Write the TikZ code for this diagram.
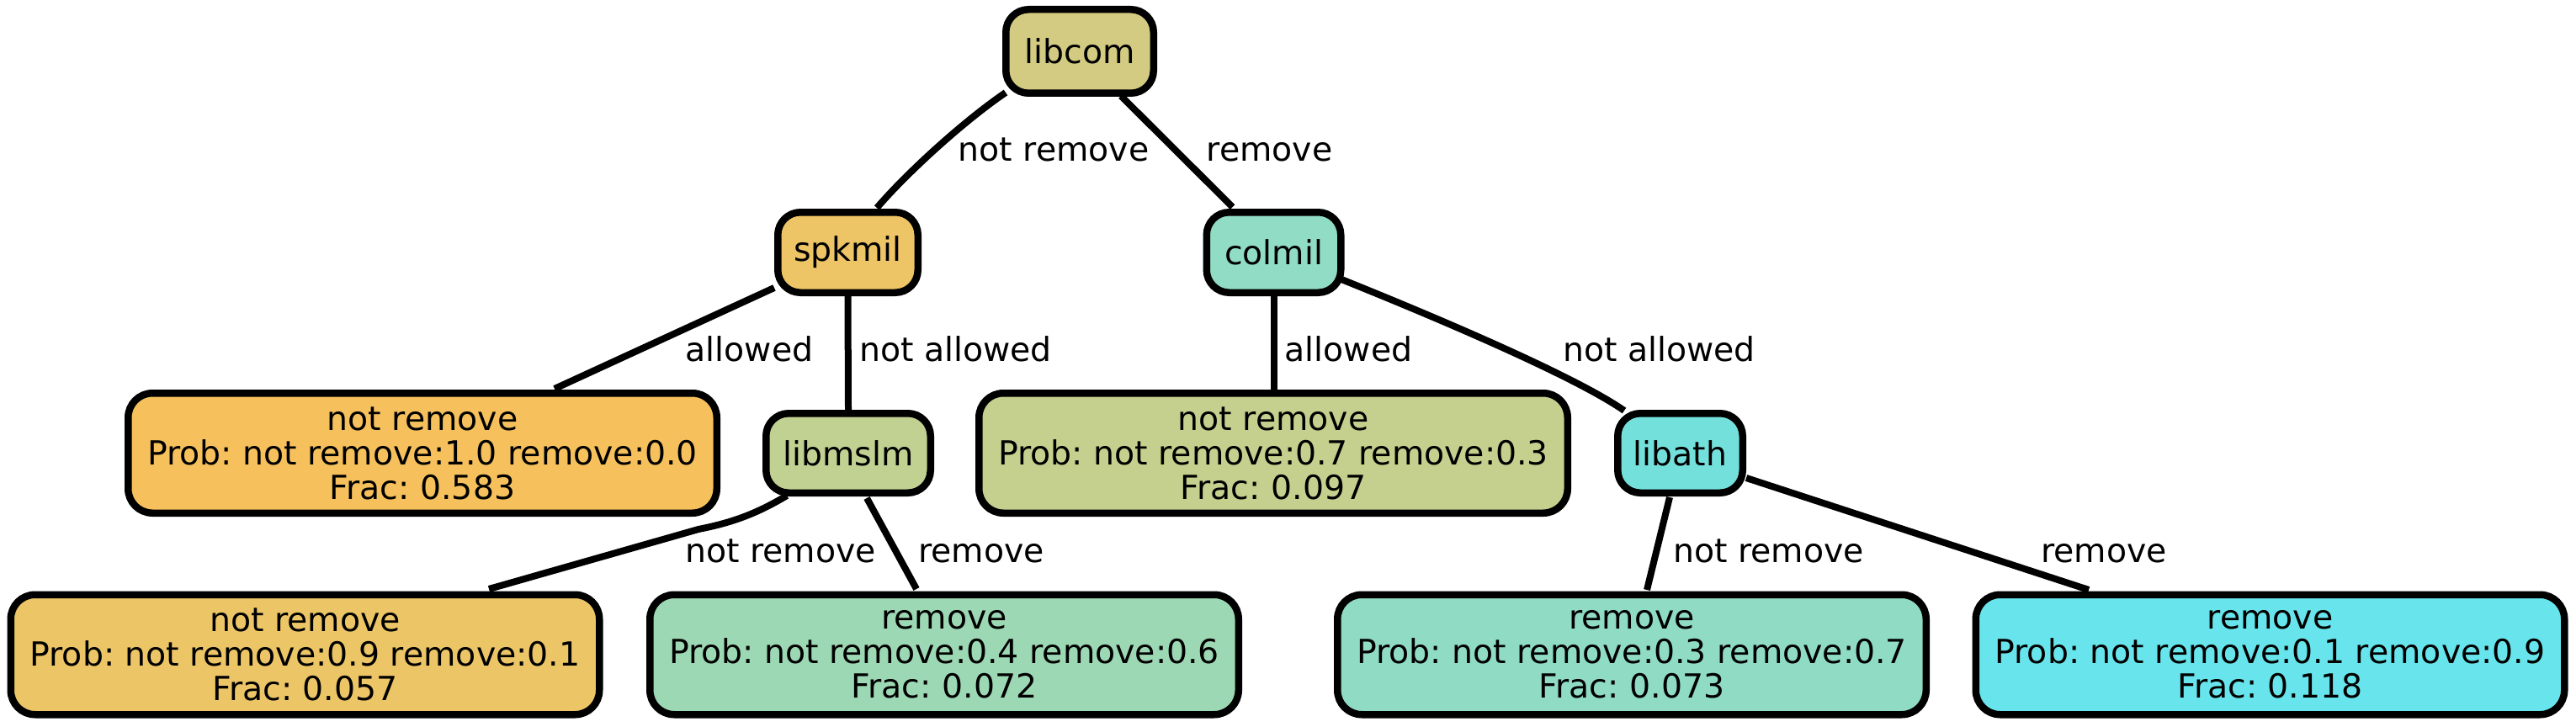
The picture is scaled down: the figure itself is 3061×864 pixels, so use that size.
\documentclass[tikz,border=0pt]{standalone}
\usepackage{fontspec}
\setmainfont{DejaVu Sans}
\usetikzlibrary{backgrounds}
\definecolor{cLibcom}{HTML}{D3CB82}
\definecolor{cSpkmil}{HTML}{EDC466}
\definecolor{cColmil}{HTML}{91DCC4}
\definecolor{cLibmslm}{HTML}{C0D192}
\definecolor{cLibath}{HTML}{74E0DC}
\definecolor{cLeafA}{HTML}{F6C15C}
\definecolor{cLeafB}{HTML}{C5D08E}
\definecolor{cLeafC}{HTML}{ECC566}
\definecolor{cLeafD}{HTML}{9DD8B4}
\definecolor{cLeafE}{HTML}{8FDBC4}
\definecolor{cLeafF}{HTML}{68E5EC}
\frenchspacing
\begin{document}
\frenchspacing
\begin{tikzpicture}[x=1pt,y=-1pt,
  box/.style={draw=black, line width=8.5pt, rounded corners=29pt, inner sep=0pt,
    align=center, font=\fontsize{39.4}{41}\selectfont\frenchspacing,
    minimum width=699.5pt, minimum height=142.5pt},
  small/.style={box, rounded corners=27pt, minimum height=95.5pt},
  edge/.style={draw=black, line width=8pt},
  lbl/.style={font=\fontsize{39.4}{41}\selectfont, anchor=base, inner sep=0pt}]
\useasboundingbox (0,0) rectangle (3061,864);

\node[small, fill=cLibcom, minimum width=175.5pt, minimum height=99.5pt] (libcom) at (1283,61) {libcom};
\node[small, fill=cSpkmil, minimum width=166.5pt] (spkmil) at (1007.5,300) {spkmil};
\node[small, fill=cColmil, minimum width=159.5pt] (colmil) at (1513.5,300) {colmil};
\node[small, fill=cLibmslm, minimum width=195.5pt, minimum height=94.5pt] (libmslm) at (1008,538.5) {libmslm};
\node[small, fill=cLibath, minimum width=148.5pt, minimum height=94.5pt] (libath) at (1996.5,538.5) {libath};

\node[box, fill=cLeafA] (leafA) at (502,538.5) {not remove\\Prob: not remove:1.0 remove:0.0\\Frac: 0.583};
\node[box, fill=cLeafB] (leafB) at (1513,538.5) {not remove\\Prob: not remove:0.7 remove:0.3\\Frac: 0.097};
\node[box, fill=cLeafC] (leafC) at (362.5,778) {not remove\\Prob: not remove:0.9 remove:0.1\\Frac: 0.057};
\node[box, fill=cLeafD] (leafD) at (1122,778) {remove\\Prob: not remove:0.4 remove:0.6\\Frac: 0.072};
\node[box, fill=cLeafE] (leafE) at (1939,778) {remove\\Prob: not remove:0.3 remove:0.7\\Frac: 0.073};
\node[box, fill=cLeafF] (leafF) at (2697.5,778) {remove\\Prob: not remove:0.1 remove:0.9\\Frac: 0.118};

\begin{scope}[on background layer]
\fill[white] (0,0) rectangle (3061,864);
\draw[edge] ([shift={(-88,49)}]libcom.center) .. controls (1145,144) and (1077,206) .. ([shift={(34.5,-53)}]spkmil.center);
\draw[edge] ([shift={(49,53)}]libcom.center) -- ([shift={(-49,-54)}]colmil.center);
\draw[edge] ([shift={(-87.5,42)}]spkmil.center) -- ([shift={(157,-76.5)}]leafA.center);
\draw[edge] (spkmil.south) -- (libmslm.north);
\draw[edge] (colmil.south) -- (colmil.south |- leafB.north);
\draw[edge] ([shift={(80.5,32)}]colmil.center) .. controls (1696,373) and (1870,446) .. ([shift={(-66.5,-50.5)}]libath.center);
\draw[edge] ([shift={(-73,50.5)}]libmslm.center) .. controls (895,613) and (865,622) .. (830,629) -- ([shift={(218.5,-78)}]leafC.center);
\draw[edge] ([shift={(22,53.5)}]libmslm.center) -- ([shift={(-33,-78)}]leafD.center);
\draw[edge] ([shift={(-12.5,52.5)}]libath.center) -- ([shift={(18,-77)}]leafE.center);
\draw[edge] ([shift={(78.5,29.5)}]libath.center) -- ([shift={(-215.5,-77)}]leafF.center);
\end{scope}

\node[lbl] (l1) at (1252,191) {not remove};
\node[lbl] (l2) at (1508.5,191) {remove};
\node[lbl] (l3) at (890.5,429) {allowed};
\node[lbl] (l4) at (1135.5,429) {not allowed};
\node[lbl] (l5) at (1602.5,429) {allowed};
\node[lbl] (l6) at (1971.5,429) {not allowed};
\node[lbl] (l7) at (927.5,668) {not remove};
\node[lbl] (l8) at (1166,668) {remove};
\node[lbl] (l9) at (2101.5,668) {not remove};
\node[lbl] (l10) at (2500,668) {remove};
\end{tikzpicture}
\end{document}
